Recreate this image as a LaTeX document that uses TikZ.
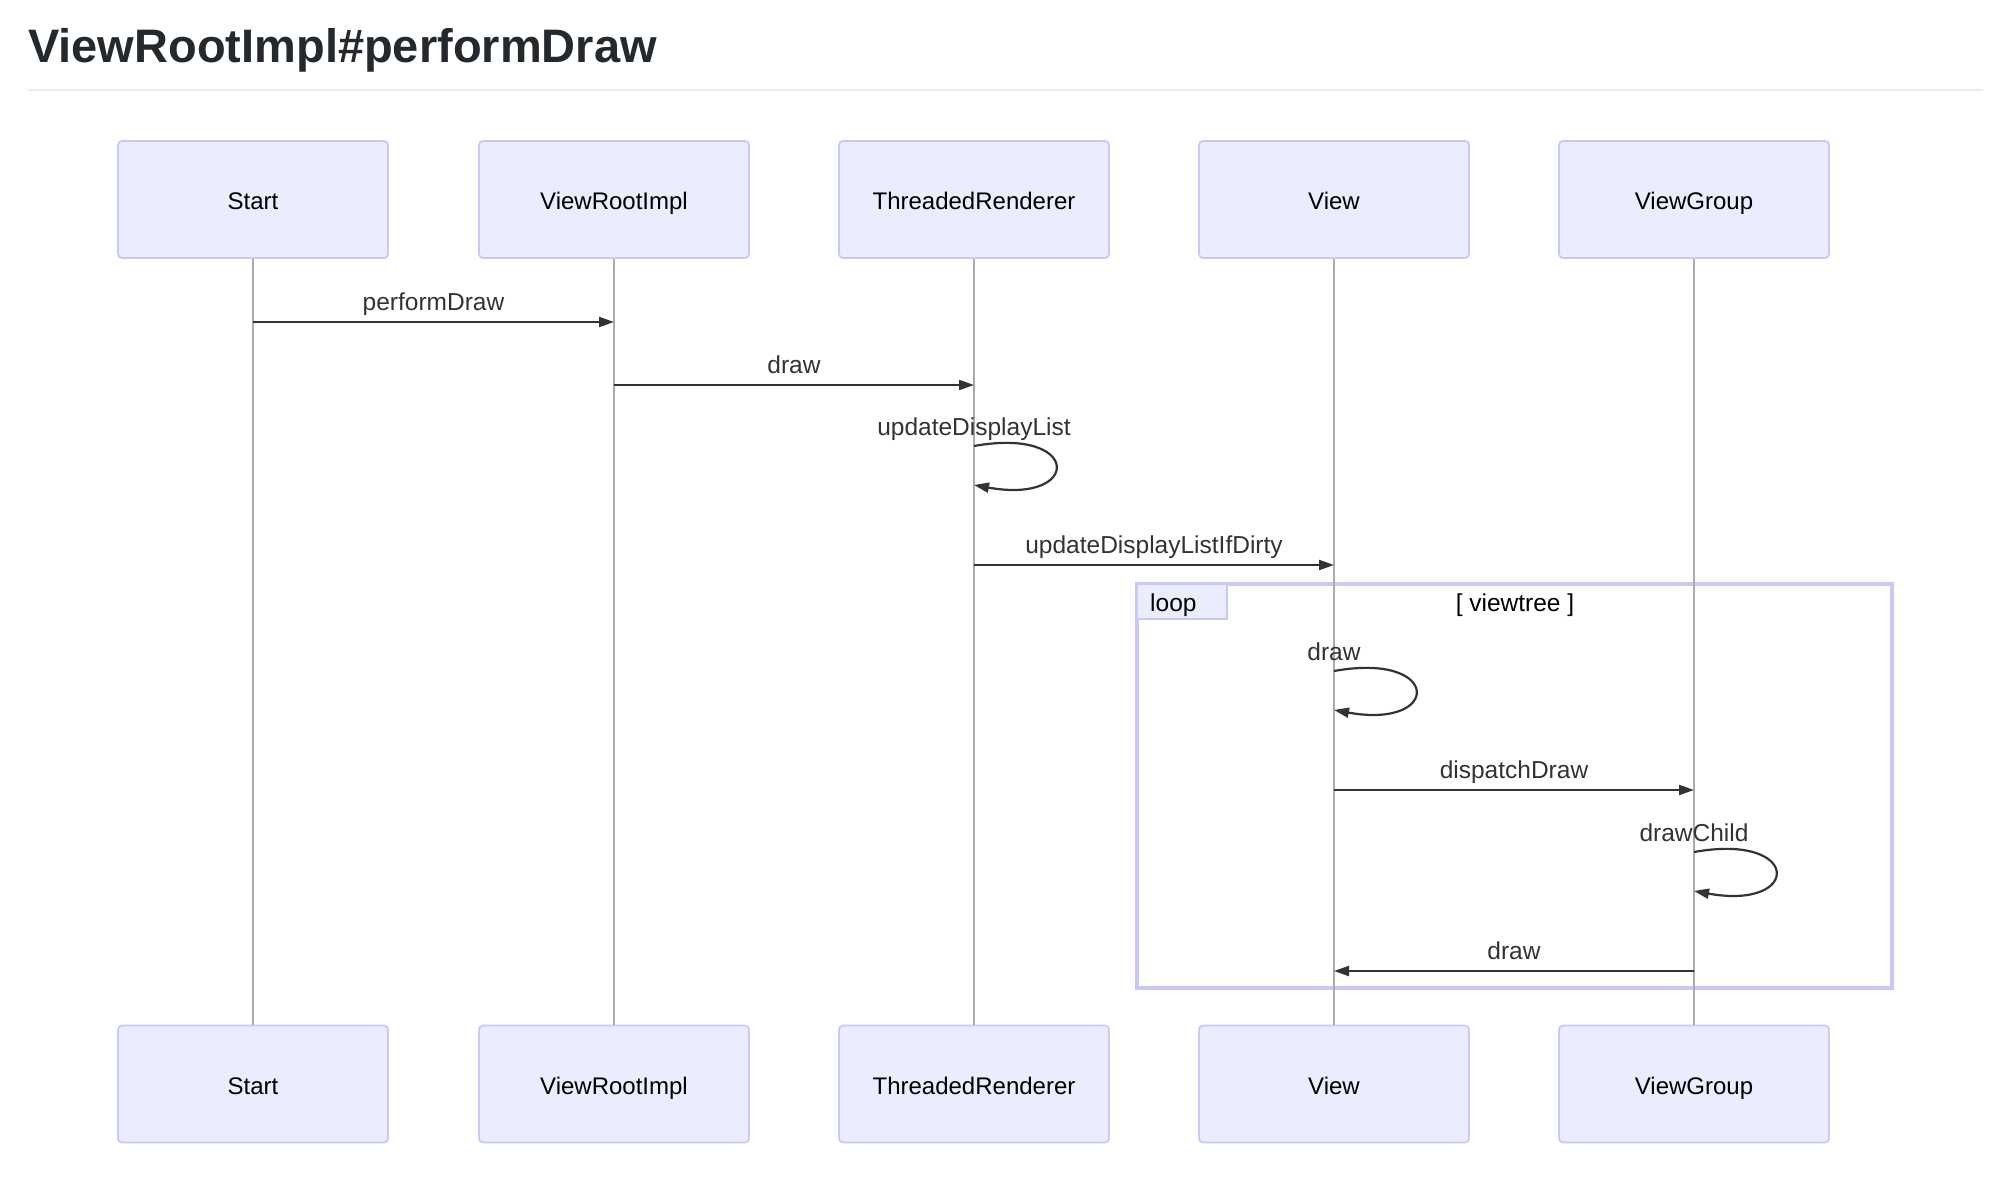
\documentclass[tikz,border=0pt]{standalone}
\usepackage{fontspec}
\setmainfont{Liberation Sans}
\usetikzlibrary{arrows.meta}
\definecolor{actorfill}{HTML}{ECECFF}
\definecolor{actorline}{HTML}{C9C9F9}
\definecolor{lifec}{HTML}{ABABAB}
\definecolor{msgc}{HTML}{333333}
\definecolor{titlec}{HTML}{24292E}
\definecolor{rulec}{HTML}{EAECEF}
\begin{document}
\begin{tikzpicture}[x=1pt,y=-1pt,
  actor/.style={draw=actorline, fill=actorfill, line width=1.8pt, rounded corners=4pt,
    minimum width=270pt, minimum height=117pt, inner sep=0pt,
    text height=24pt, text depth=3pt, font=\fontsize{24}{28}\selectfont},
  msgline/.style={draw=msgc, line width=2.2pt, -{Triangle[length=15pt,width=10pt]}},
  msglabel/.style={font=\fontsize{24.5}{28}\selectfont, text=msgc, inner sep=0pt, anchor=base},
  life/.style={draw=lifec, line width=1.2pt},
  loopframe/.style={draw=actorline, line width=3.6pt},
  looptag/.style={draw=actorline, fill=actorfill, line width=1.8pt}]
\useasboundingbox (0,0) rectangle (1996,1182);
\fill[white] (0,0) rectangle (1996,1182);
% title
\node[anchor=base west, font=\fontsize{47}{56}\selectfont\bfseries, text=titlec, inner sep=0pt] (title) at (28,63) {ViewRootImpl\#performDraw};
\coordinate (ruleL) at (28,90);
\coordinate (ruleR) at (1983,90);
\draw[rulec, line width=2pt] (ruleL) -- (ruleR);
% loop frame
\coordinate (loopNW) at (1137,584);
\coordinate (loopSE) at (1892,988);
\coordinate (tagSE) at (1227,619);
\draw[loopframe] (loopNW) rectangle (loopSE);
\draw[looptag] (loopNW) rectangle (tagSE);
\node[font=\fontsize{24.5}{28}\selectfont, inner sep=0pt, anchor=base west] (looplbl) at (1150,611) {loop};
\node[font=\fontsize{24.5}{28}\selectfont, inner sep=0pt, anchor=base] (cond) at (1515,611) {[ viewtree ]};
% actors
\node[actor] (sT) at (253,199.5) {Start};
\node[actor] (vrT) at (614,199.5) {ViewRootImpl};
\node[actor] (trT) at (974,199.5) {ThreadedRenderer};
\node[actor] (vT) at (1334,199.5) {View};
\node[actor] (vgT) at (1694,199.5) {ViewGroup};
\node[actor] (sB) at (253,1084) {Start};
\node[actor] (vrB) at (614,1084) {ViewRootImpl};
\node[actor] (trB) at (974,1084) {ThreadedRenderer};
\node[actor] (vB) at (1334,1084) {View};
\node[actor] (vgB) at (1694,1084) {ViewGroup};
% lifelines
\draw[life] (sT.south) -- (sB.north);
\draw[life] (vrT.south) -- (vrB.north);
\draw[life] (trT.south) -- (trB.north);
\draw[life] (vT.south) -- (vB.north);
\draw[life] (vgT.south) -- (vgB.north);
% message rows
\coordinate (m1) at (0,322);
\coordinate (m2) at (0,385);
\coordinate (m3a) at (0,446);
\coordinate (m3b) at (0,485);
\coordinate (m4) at (0,565);
\coordinate (m5a) at (0,671);
\coordinate (m5b) at (0,710);
\coordinate (m6) at (0,790);
\coordinate (m7a) at (0,852);
\coordinate (m7b) at (0,891);
\coordinate (m8) at (0,971);
% messages
\draw[msgline] (sT |- m1) -- (vrT |- m1);
\node[msglabel] (l1) at (433.5,310) {performDraw};
\draw[msgline] (vrT |- m2) -- (trT |- m2);
\node[msglabel] (l2) at (794,373) {draw};
\draw[msgline] (trT |- m3a) .. controls +(108,-19.5) and +(108,19.5) .. (trT |- m3b);
\node[msglabel] (l3) at (974,435) {updateDisplayList};
\draw[msgline] (trT |- m4) -- (vT |- m4);
\node[msglabel] (l4) at (1154,553) {updateDisplayListIfDirty};
\draw[msgline] (vT |- m5a) .. controls +(108,-19.5) and +(108,19.5) .. (vT |- m5b);
\node[msglabel] (l5) at (1334,660) {draw};
\draw[msgline] (vT |- m6) -- (vgT |- m6);
\node[msglabel] (l6) at (1514,778) {dispatchDraw};
\draw[msgline] (vgT |- m7a) .. controls +(108,-19.5) and +(108,19.5) .. (vgT |- m7b);
\node[msglabel] (l7) at (1694,841) {drawChild};
\draw[msgline] (vgT |- m8) -- (vT |- m8);
\node[msglabel] (l8) at (1514,959) {draw};
\end{tikzpicture}
\end{document}
